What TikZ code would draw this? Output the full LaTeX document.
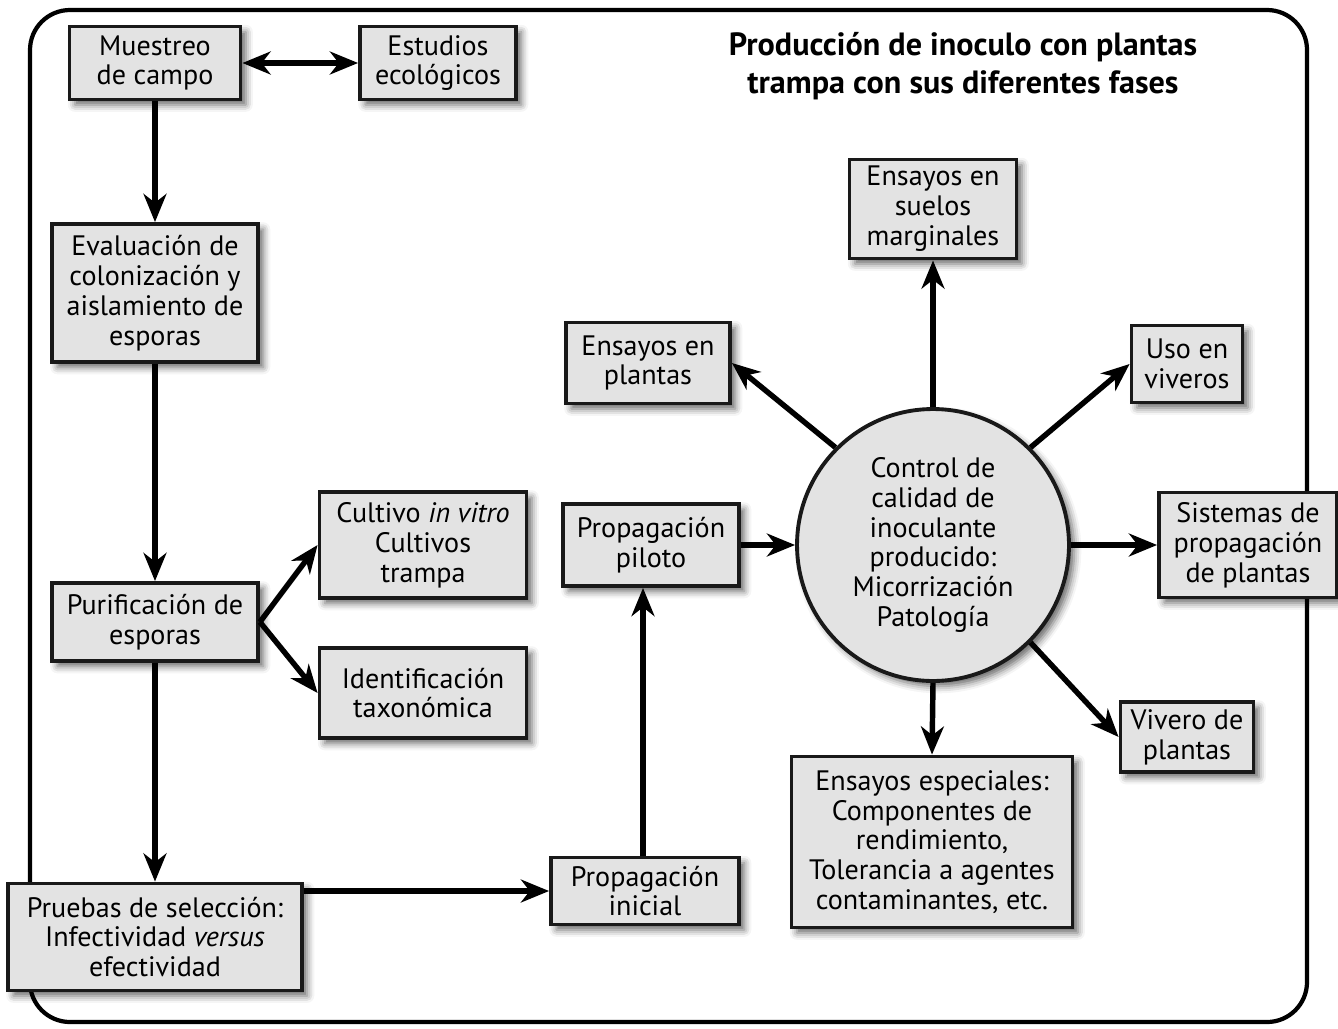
\documentclass[tikz,border=0pt]{standalone}
\usepackage{fontspec}
\setmainfont{PT Sans}
\usetikzlibrary{arrows.meta,shadows.blur}
\tikzset{
  caja/.style={draw=black!90, line width=2.2pt, fill=gray!22, align=center, inner sep=2pt,
    blur shadow={shadow xshift=3pt, shadow yshift=-3pt, shadow blur radius=4pt, shadow opacity=60},
    font=\fontsize{16}{17}\selectfont},
  punta/.tip={Stealth[length=16pt,width=13pt,inset=5pt]},
  flecha/.style={line width=3.1pt, -punta},
}
\begin{document}
\begin{tikzpicture}[x=0.02cm, y=-0.02cm]
  \useasboundingbox (0,0) rectangle (1338,1028);
  % marco
  \draw[line width=2.4pt, rounded corners=0.8cm] (30,10) rectangle (1307,1022);
  \node[font=\fontsize{18.3}{21.5}\selectfont\bfseries, align=center] (titulo) at (963,66)
    {Producción de inoculo con plantas\\trampa con sus diferentes fases};
  % cajas
  \node[caja, minimum width=3.42cm, minimum height=1.46cm] (muestreo) at (155,63) {Muestreo\\de campo};
  \node[caja, minimum width=3.12cm, minimum height=1.46cm] (estudios) at (438,63) {Estudios\\ecológicos};
  \node[caja, minimum width=4.12cm, minimum height=2.76cm] (evaluacion) at (155,293)
    {Evaluación de\\colonización y\\aislamiento de\\esporas};
  \node[caja, minimum width=4.12cm, minimum height=1.56cm] (purificacion) at (155,622) {Purificación de\\esporas};
  \node[caja, minimum width=4.14cm, minimum height=2.12cm] (cultivo) at (423,545)
    {Cultivo \textit{in vitro}\\Cultivos\\trampa};
  \node[caja, minimum width=4.14cm, minimum height=1.8cm] (identificacion) at (423,693)
    {Identificación\\taxonómica};
  \node[caja, minimum width=5.88cm, minimum height=2.14cm] (pruebas) at (155,937)
    {Pruebas de selección:\\Infectividad \textit{versus}\\efectividad};
  \node[caja, minimum width=3.76cm, minimum height=1.34cm] (inicial) at (645,891) {Propagación\\inicial};
  \node[caja, minimum width=3.52cm, minimum height=1.64cm] (piloto) at (651,545) {Propagación\\piloto};
  \node[caja, circle, minimum size=5.44cm] (control) at (933,545)
    {Control de\\calidad de\\inoculante\\producido:\\Micorrización\\Patología};
  \node[caja, minimum width=3.34cm, minimum height=1.98cm] (suelos) at (933,209)
    {Ensayos en\\suelos\\marginales};
  \node[caja, minimum width=3.28cm, minimum height=1.62cm] (plantas) at (648,363) {Ensayos en\\plantas};
  \node[caja, minimum width=2.22cm, minimum height=1.54cm] (viveros) at (1187,364) {Uso en\\viveros};
  \node[caja, minimum width=3.56cm, minimum height=2.1cm] (sistemas) at (1248,545)
    {Sistemas de\\propagación\\de plantas};
  \node[caja, minimum width=2.66cm, minimum height=1.4cm] (vivero) at (1187,737) {Vivero de\\plantas};
  \node[caja, minimum width=5.62cm, minimum height=3.42cm] (especiales) at (932,842)
    {Ensayos especiales:\\Componentes de\\rendimiento,\\Tolerancia a agentes\\contaminantes, etc.};
  % flechas
  \begin{scope}[flecha]
    \draw[punta-punta] (muestreo) -- (estudios);
    \draw (muestreo) -- (evaluacion);
    \draw (evaluacion) -- (purificacion);
    \draw (purificacion) -- (pruebas);
    \draw (purificacion.east) -- (cultivo.west);
    \draw (purificacion.east) -- (identificacion.west);
    \draw (pruebas.east |- inicial) -- (inicial);
    \draw (inicial.north -| 643,0) -- (piloto.south -| 643,0);
    \draw (piloto) -- (control);
    \draw (control.north) -- (suelos.south);
    \draw (control.135) -- (plantas.east);
    \draw (control.45) -- (viveros.west);
    \draw (control.east) -- (sistemas.west);
    \draw (control.-45) -- (vivero.west);
    \draw (control.south) -- (especiales.north);
  \end{scope}
\end{tikzpicture}
\end{document}
